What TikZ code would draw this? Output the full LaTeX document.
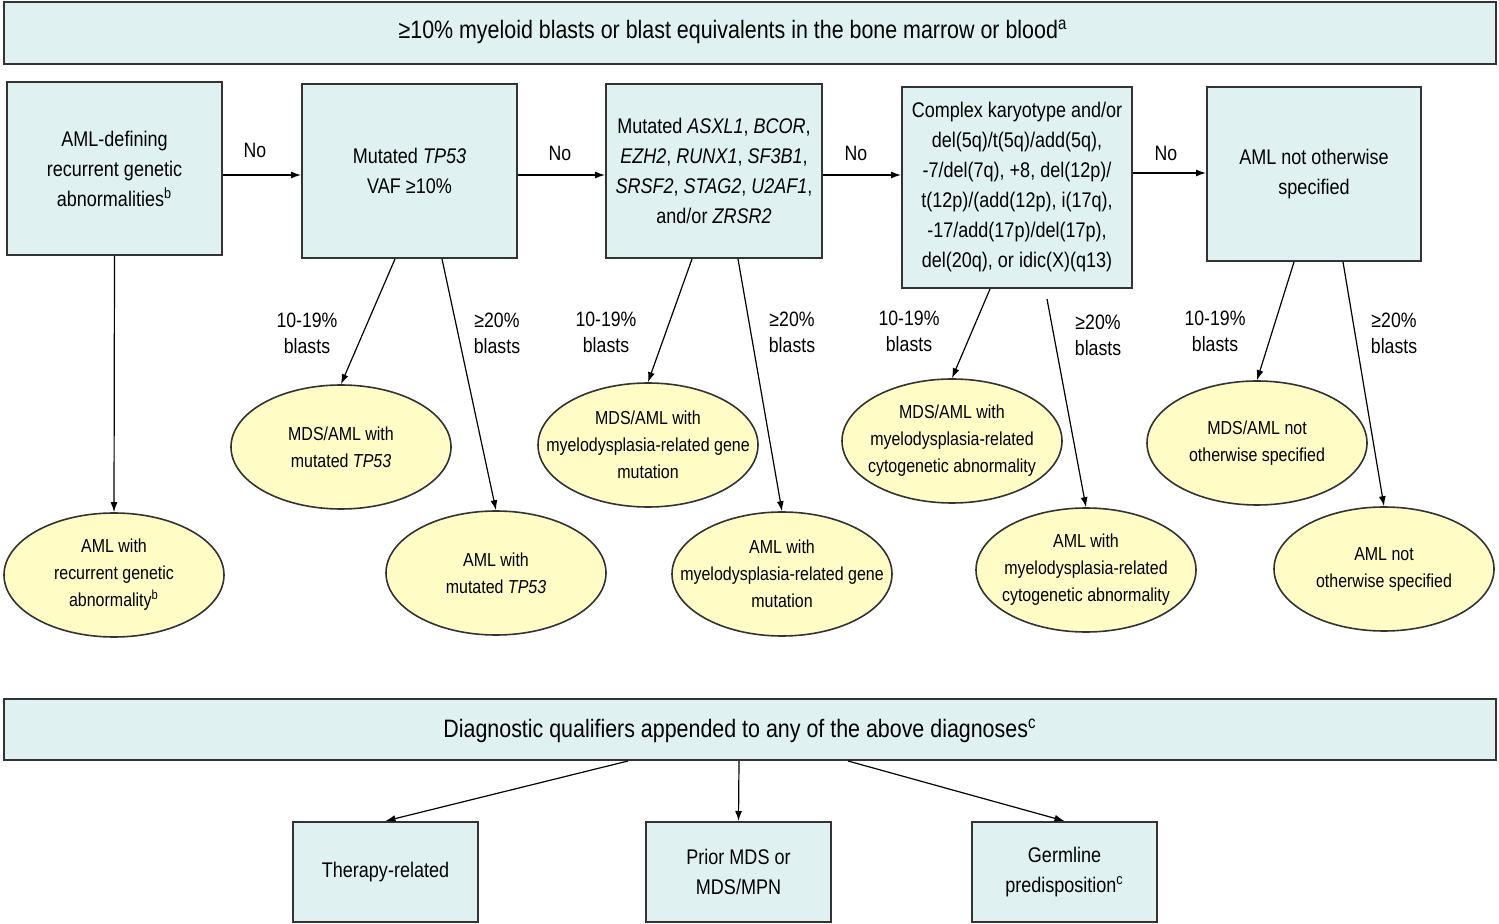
\documentclass[tikz,border=0pt]{standalone}
\usepackage{fontspec}
\setmainfont{Liberation Sans}[FakeStretch=0.85]
\usetikzlibrary{shapes.geometric,arrows.meta,calc}
\definecolor{boxfill}{HTML}{DFF1F1}
\definecolor{ellfill}{HTML}{FFFCC6}
\definecolor{edge}{HTML}{333333}
\begin{document}
\begin{tikzpicture}[x=0.5pt,y=-0.5pt,
 box/.style={draw=edge,fill=boxfill,line width=1pt,inner sep=0pt,align=center,font=\fontsize{10.6}{15}\selectfont},
 ell/.style={ellipse,draw=edge,fill=ellfill,line width=0.8pt,inner sep=0pt,minimum width=110pt,minimum height=62pt},
 etext/.style={inner sep=0pt,align=center,font=\fontsize{9.4}{13.5}\selectfont},
 arr/.style={-{Latex[length=5pt,width=3.5pt]},line width=0.6pt,draw=black},
 lbl/.style={align=center,inner sep=0pt,font=\fontsize{10.4}{13}\selectfont},
 banner/.style={draw=edge,fill=boxfill,line width=1pt,minimum width=746pt,inner sep=0pt},
 bantext/.style={inner sep=0pt,font=\fontsize{12.6}{15}\selectfont}]
\useasboundingbox (0,0) rectangle (1499,924);

% top banner
\node[banner,minimum height=31pt] (top) at (750,33) {};
\node[bantext] (topt) at (733,32) {≥10\% myeloid blasts or blast equivalents in the bone marrow or blood\textsuperscript{a}};

% decision boxes
\node[box,minimum width=107.5pt,minimum height=86.5pt] (b1) at (114.5,168.5) {AML-defining\\recurrent genetic\\abnormalities\textsuperscript{b}};
\node[box,minimum width=107.5pt,minimum height=87pt] (b2) at (409.5,171) {Mutated \textit{TP53}\\VAF ≥10\%};
\node[box,minimum width=108pt,minimum height=87pt] (b3) at (714,171) {Mutated \textit{ASXL1}, \textit{BCOR},\\\textit{EZH2}, \textit{RUNX1}, \textit{SF3B1},\\\textit{SRSF2}, \textit{STAG2}, \textit{U2AF1},\\and/or \textit{ZRSR2}};
\node[box,minimum width=115pt,minimum height=100.5pt] (b4) at (1017,187.5) {Complex karyotype and/or\\del(5q)/t(5q)/add(5q),\\-7/del(7q), +8, del(12p)/\\t(12p)/(add(12p), i(17q),\\-17/add(17p)/del(17p),\\del(20q), or idic(X)(q13)};
\node[box,minimum width=107pt,minimum height=87pt] (b5) at (1314,174) {AML not otherwise\\specified};

% No arrows
\draw[arr] ($(b1.east)+(0,6.5)$) -- ($(b2.west)+(0,4)$);
\draw[arr] ($(b2.east)+(0,4)$) -- ($(b3.west)+(0,4)$);
\draw[arr] ($(b3.east)+(0,4)$) -- ($(b4.west)+(0,-12.5)$);
\draw[arr] ($(b4.east)+(0,-14.5)$) -- ($(b5.west)+(0,-1)$);
\node[lbl] (no1) at (255,150) {No};
\node[lbl] (no2) at (560,153) {No};
\node[lbl] (no3) at (856,153) {No};
\node[lbl] (no4) at (1166,153) {No};

% ellipses
\node[ell] (e1) at (114,575) {};
\node[etext] (e1t) at (e1) {AML with\\recurrent genetic\\abnormality\textsuperscript{b}};
\node[ell] (e2) at (341,447) {};
\node[etext] (e2t) at (e2) {MDS/AML with\\mutated \textit{TP53}};
\node[ell] (e3) at (496,573) {};
\node[etext] (e3t) at (e3) {AML with\\mutated \textit{TP53}};
\node[ell] (e4) at (648,445) {};
\node[etext] (e4t) at (e4) {MDS/AML with\\myelodysplasia-related gene\\mutation};
\node[ell] (e5) at (782,574) {};
\node[etext] (e5t) at (e5) {AML with\\myelodysplasia-related gene\\mutation};
\node[ell] (e6) at (952,441) {};
\node[etext] (e6t) at (e6) {MDS/AML with\\myelodysplasia-related\\cytogenetic abnormality};
\node[ell] (e7) at (1086,570) {};
\node[etext] (e7t) at (e7) {AML with\\myelodysplasia-related\\cytogenetic abnormality};
\node[ell] (e8) at (1257,443) {};
\node[etext] (e8t) at (e8) {MDS/AML not\\otherwise specified};
\node[ell] (e9) at (1384,569) {};
\node[etext] (e9t) at (e9) {AML not\\otherwise specified};

% blast labels
\node[lbl] (l1) at (307,333) {10-19\%\\blasts};
\node[lbl] (l2) at (497,333) {≥20\%\\blasts};
\node[lbl] (l3) at (606,332) {10-19\%\\blasts};
\node[lbl] (l4) at (792,332) {≥20\%\\blasts};
\node[lbl] (l5) at (909,331) {10-19\%\\blasts};
\node[lbl] (l6) at (1098,335) {≥20\%\\blasts};
\node[lbl] (l7) at (1215,331) {10-19\%\\blasts};
\node[lbl] (l8) at (1394,333) {≥20\%\\blasts};

% down arrows
\draw[arr] (b1.south) -- (e1.north);
\draw[arr] ($(b2.south)+(-14.5,0)$) -- (e2.north);
\draw[arr] ($(b2.south)+(32.5,0)$) -- (e3.north);
\draw[arr] ($(b3.south)+(-22,0)$) -- (e4.north);
\draw[arr] ($(b3.south)+(24,0)$) -- (e5.north);
\draw[arr] ($(b4.south)+(-27,0)$) -- (e6.north);
\draw[arr] ($(b4.south)+(30,10)$) -- (e7.north);
\draw[arr] ($(b5.south)+(-20,0)$) -- (e8.north);
\draw[arr] ($(b5.south)+(29,0)$) -- (e9.north);

% qualifiers
\node[banner,minimum height=30.5pt] (qual) at (750,729.5) {};
\node[bantext] (qualt) at (740,731) {Diagnostic qualifiers appended to any of the above diagnoses\textsuperscript{c}};
\node[box,minimum width=92.5pt,minimum height=50pt] (q1) at (385.5,872) {Therapy-related};
\node[box,minimum width=92.5pt,minimum height=50pt] (q2) at (738.5,872) {Prior MDS or\\MDS/MPN};
\node[box,minimum width=92.5pt,minimum height=50pt] (q3) at (1064.5,872) {Germline\\predisposition\textsuperscript{c}};
\draw[arr] ($(qual.south)+(-122,0)$) -- (q1.north);
\draw[arr] ($(qual.south)+(-11,0)$) -- (q2.north);
\draw[arr] ($(qual.south)+(98,0)$) -- (q3.north);
\end{tikzpicture}
\end{document}
